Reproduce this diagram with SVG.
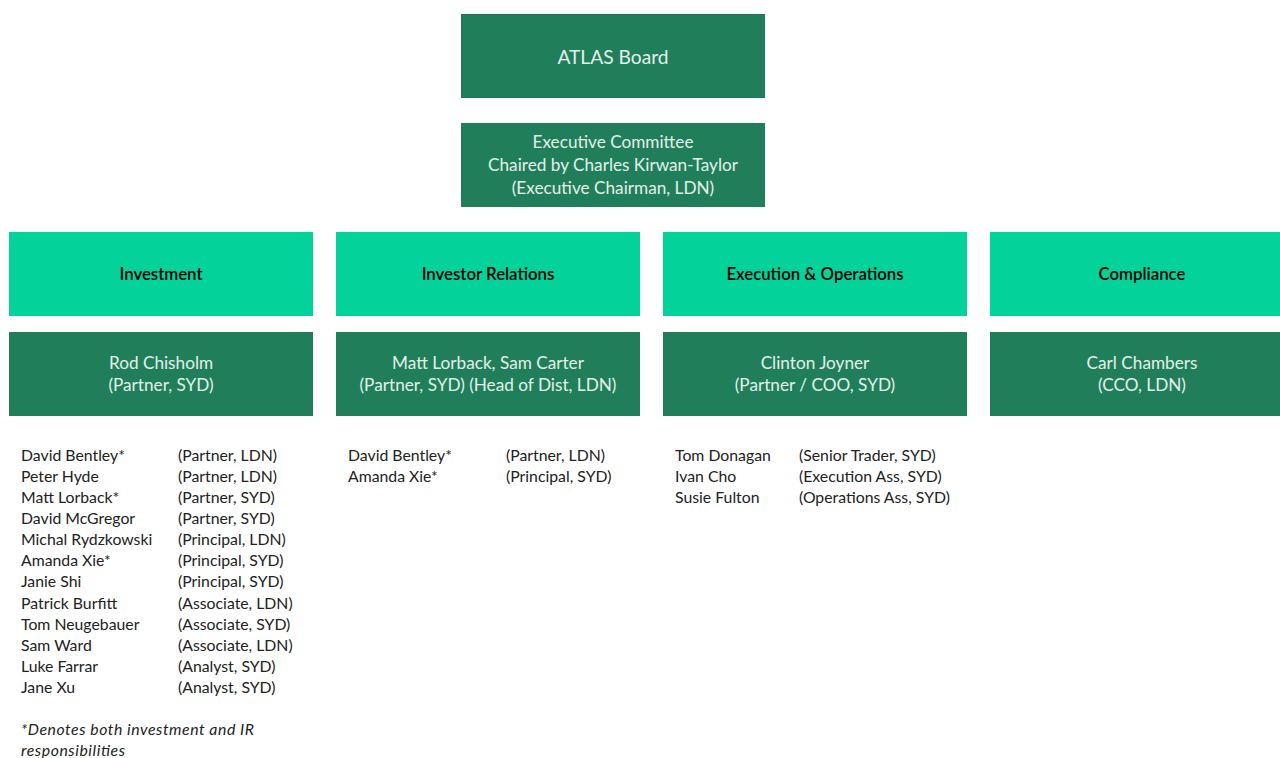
<svg xmlns="http://www.w3.org/2000/svg" width="1280" height="758" viewBox="0 0 1280 758">
<style>
.dark{fill:#217E5A}
.light{fill:#03D39B}
.wt{font-family:Lato,"Open Sans",sans-serif;font-size:17.2px;fill:#E2F1EA;text-anchor:middle}
.big{font-size:19.2px}
.hd{font-family:Lato,"Open Sans",sans-serif;font-size:16.8px;font-weight:600;fill:#000;text-anchor:middle}
.ls{font-family:Lato,"Open Sans",sans-serif;font-size:15.8px;fill:#222}
.it{font-style:italic}
</style>
<rect width="1280" height="758" fill="#fff"/>
<g id="board"><rect class="dark" x="461" y="14" width="304" height="84"/><text class="wt big" x="613" y="64">ATLAS Board</text></g>
<g id="exco"><rect class="dark" x="461" y="123" width="304" height="84"/><text class="wt" x="613" y="148">Executive Committee</text><text class="wt" x="613" y="171">Chaired by Charles Kirwan-Taylor</text><text class="wt" x="613" y="194">(Executive Chairman, LDN)</text></g>
<g id="connectors"></g>
<g id="investment"><rect class="light" x="9" y="232" width="304" height="84"/><text class="hd" x="161" y="280">Investment</text></g>
<g id="ir"><rect class="light" x="336" y="232" width="304" height="84"/><text class="hd" x="488" y="280">Investor Relations</text></g>
<g id="execops"><rect class="light" x="663" y="232" width="304" height="84"/><text class="hd" x="815" y="280">Execution &amp; Operations</text></g>
<g id="compliance"><rect class="light" x="990" y="232" width="290" height="84"/><text class="hd" x="1142" y="280">Compliance</text></g>
<g id="inv-head"><rect class="dark" x="9" y="332" width="304" height="84"/><text class="wt" x="161" y="369">Rod Chisholm</text><text class="wt" x="161" y="391">(Partner, SYD)</text></g>
<g id="ir-head"><rect class="dark" x="336" y="332" width="304" height="84"/><text class="wt" x="488" y="369">Matt Lorback, Sam Carter</text><text class="wt" x="488" y="391">(Partner, SYD) (Head of Dist, LDN)</text></g>
<g id="ops-head"><rect class="dark" x="663" y="332" width="304" height="84"/><text class="wt" x="815" y="369">Clinton Joyner</text><text class="wt" x="815" y="391">(Partner / COO, SYD)</text></g>
<g id="comp-head"><rect class="dark" x="990" y="332" width="290" height="84"/><text class="wt" x="1142" y="369">Carl Chambers</text><text class="wt" x="1142" y="391">(CCO, LDN)</text></g>
<g id="inv-list" class="ls">
<text x="21" y="461">David Bentley*</text><text x="178" y="461">(Partner, LDN)</text>
<text x="21" y="482">Peter Hyde</text><text x="178" y="482">(Partner, LDN)</text>
<text x="21" y="503">Matt Lorback*</text><text x="178" y="503">(Partner, SYD)</text>
<text x="21" y="524">David McGregor</text><text x="178" y="524">(Partner, SYD)</text>
<text x="21" y="545">Michal Rydzkowski</text><text x="178" y="545">(Principal, LDN)</text>
<text x="21" y="566">Amanda Xie*</text><text x="178" y="566">(Principal, SYD)</text>
<text x="21" y="587">Janie Shi</text><text x="178" y="587">(Principal, SYD)</text>
<text x="21" y="609">Patrick Burfitt</text><text x="178" y="609">(Associate, LDN)</text>
<text x="21" y="630">Tom Neugebauer</text><text x="178" y="630">(Associate, SYD)</text>
<text x="21" y="651">Sam Ward</text><text x="178" y="651">(Associate, LDN)</text>
<text x="21" y="672">Luke Farrar</text><text x="178" y="672">(Analyst, SYD)</text>
<text x="21" y="693">Jane Xu</text><text x="178" y="693">(Analyst, SYD)</text>
<text class="it" x="21" y="735" textLength="233" lengthAdjust="spacing">*Denotes both investment and IR</text>
<text class="it" x="21" y="756" textLength="104" lengthAdjust="spacing">responsibilities</text>
</g>
<g id="ir-list" class="ls">
<text x="348" y="461">David Bentley*</text><text x="506" y="461">(Partner, LDN)</text>
<text x="348" y="482">Amanda Xie*</text><text x="506" y="482">(Principal, SYD)</text>
</g>
<g id="ops-list" class="ls">
<text x="675" y="461">Tom Donagan</text><text x="799" y="461">(Senior Trader, SYD)</text>
<text x="675" y="482">Ivan Cho</text><text x="799" y="482">(Execution Ass, SYD)</text>
<text x="675" y="503">Susie Fulton</text><text x="799" y="503">(Operations Ass, SYD)</text>
</g>
</svg>
